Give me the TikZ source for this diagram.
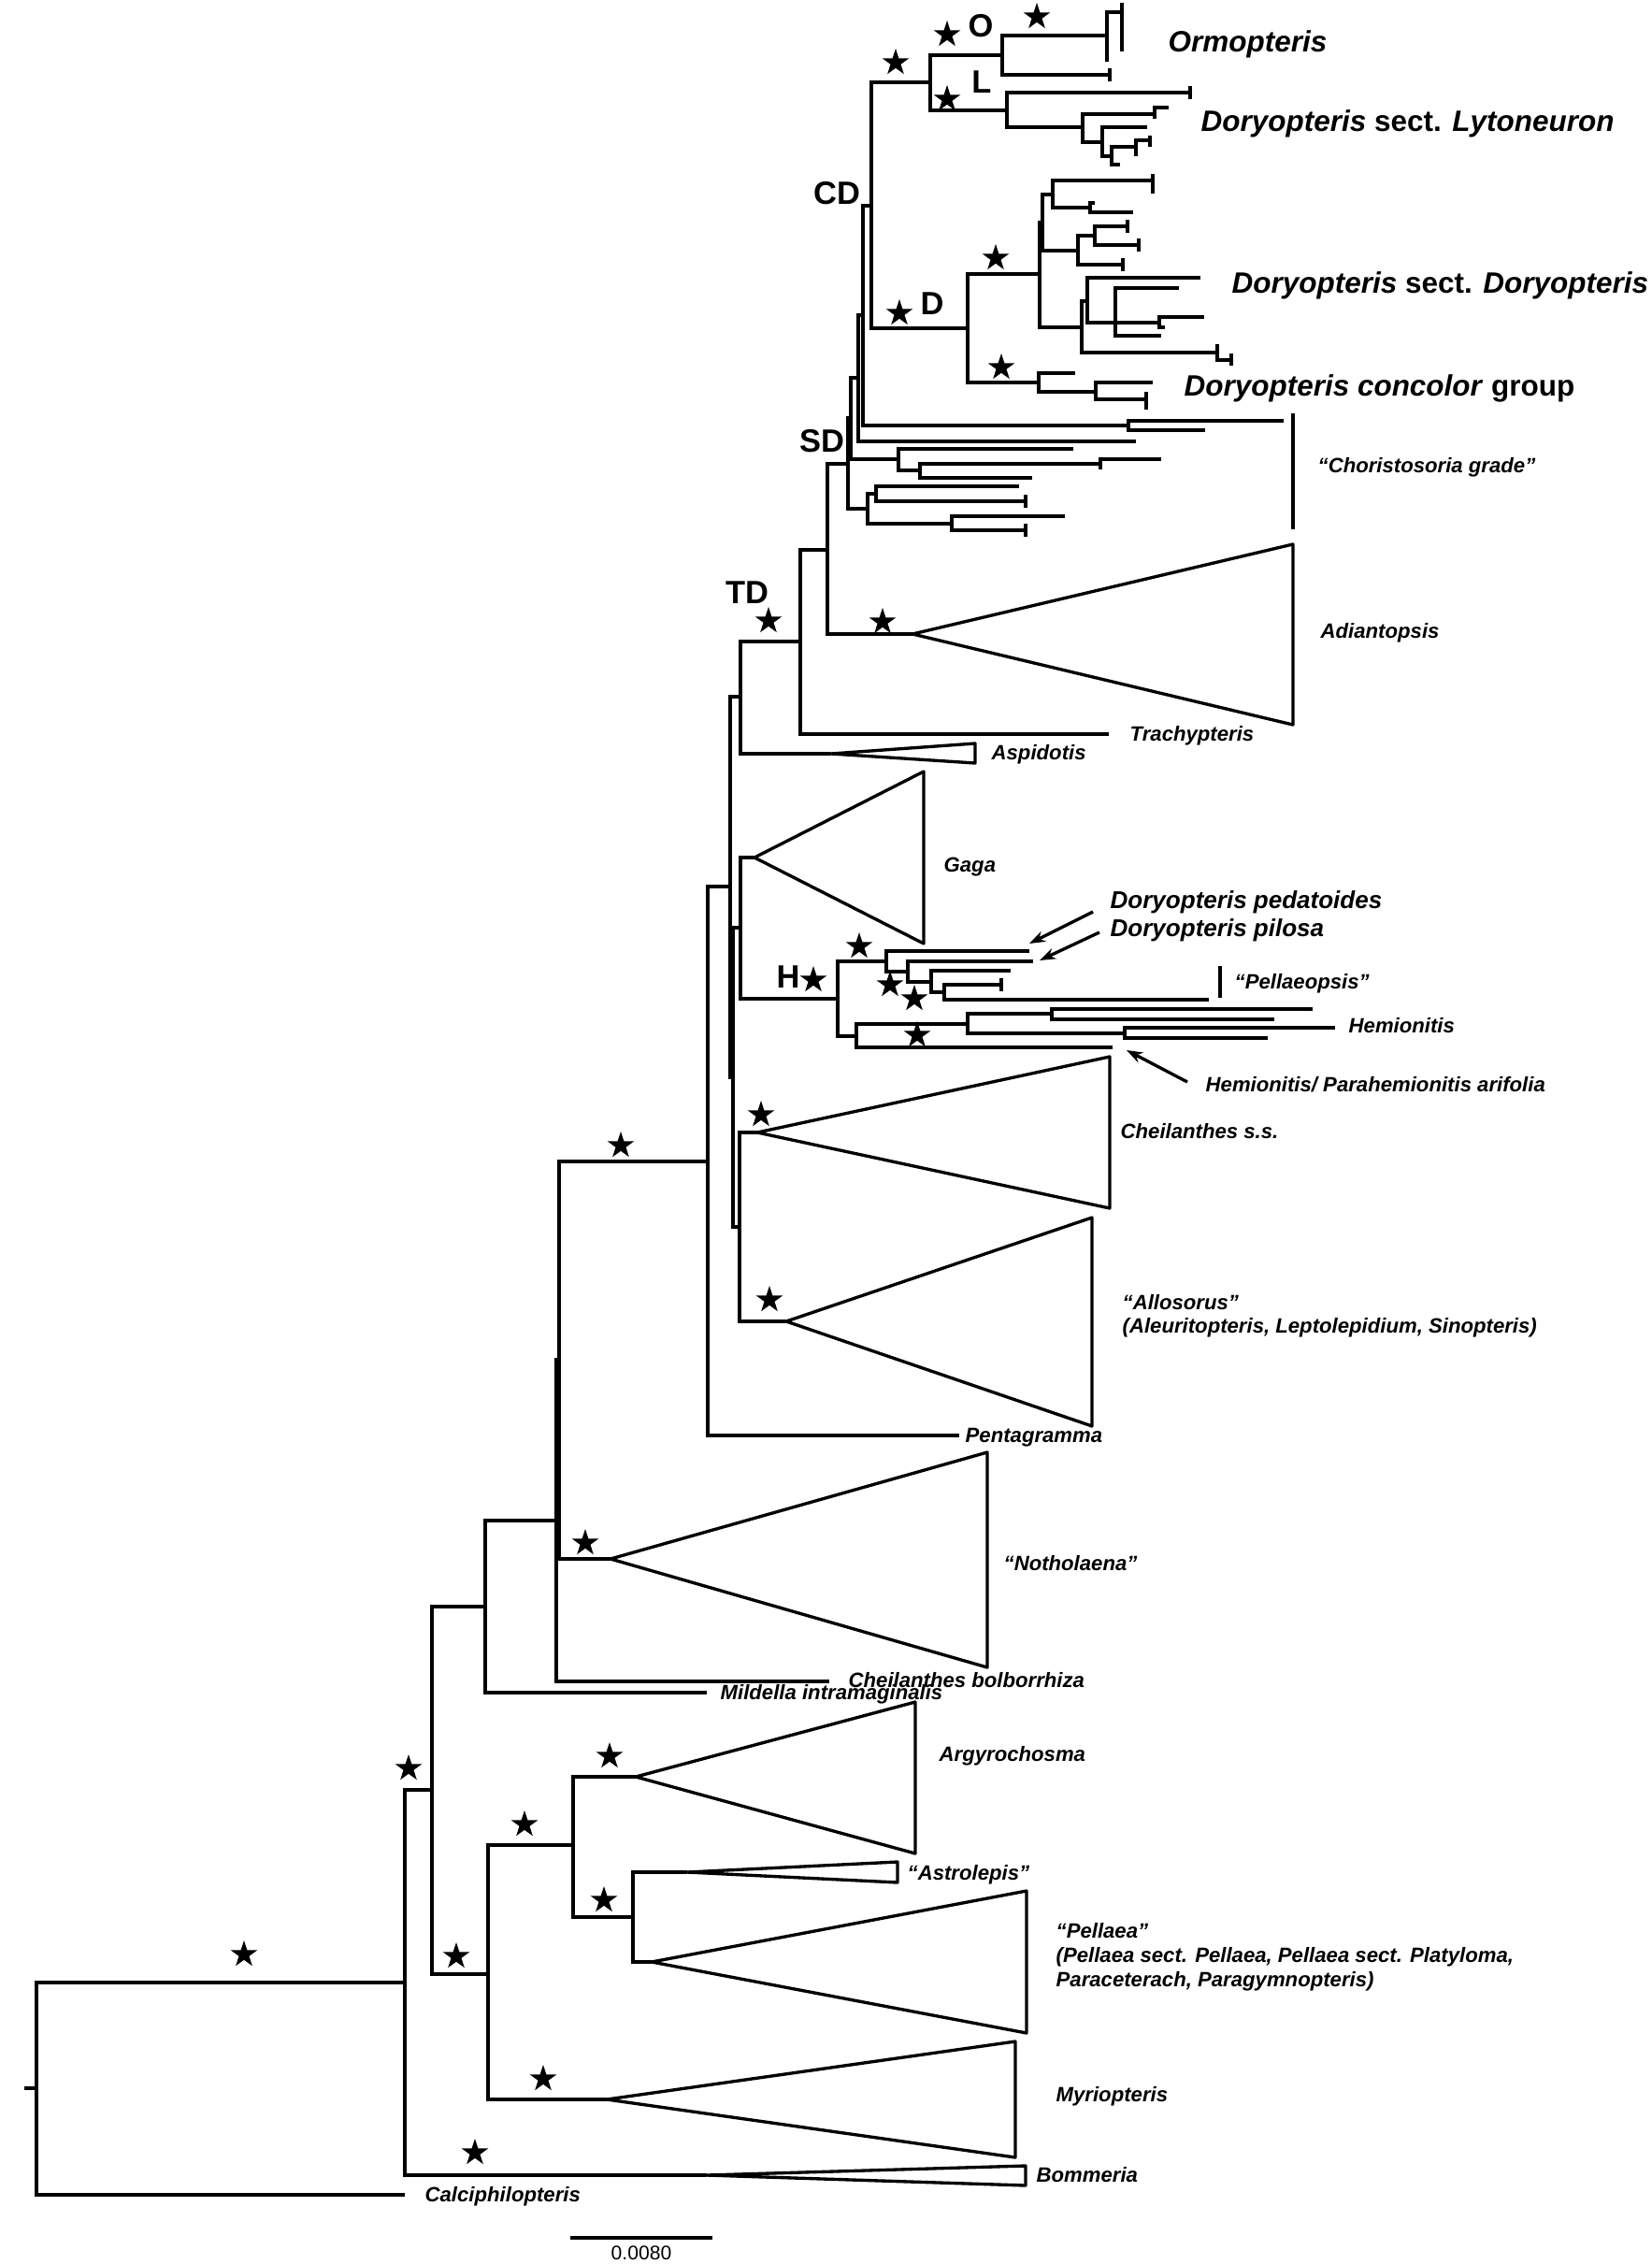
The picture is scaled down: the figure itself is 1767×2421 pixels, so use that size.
\documentclass[tikz,border=0pt]{standalone}
\usepackage{fontspec}
\setmainfont{Liberation Sans}
\usetikzlibrary{shapes.geometric,arrows.meta}
\newcommand{\clade}[3]{\draw (#2) -| (#1) |- (#3);}
\newcommand{\tipbar}[1]{\draw (#1) ++(0,-7) -- ++(0,14);}

\begin{document}
\begin{tikzpicture}[x=0.01cm,y=-0.01cm,line width=0.95pt,
  taxon/.style={anchor=west,inner sep=0pt,font=\fontsize{6.3}{7.5}\selectfont\bfseries\itshape},
  midtaxon/.style={anchor=west,inner sep=0pt,font=\fontsize{7.4}{9}\selectfont\bfseries\itshape},
  bigtaxon/.style={anchor=west,inner sep=0pt,font=\fontsize{8.95}{11}\selectfont\bfseries},
  cladename/.style={inner sep=0pt,font=\fontsize{9.8}{11}\selectfont\bfseries},
  support/.style={star,star points=5,star point ratio=2.6,fill=black,inner sep=0pt,minimum size=0.30cm},
  collapsed/.style={line join=round},
  pointer/.style={-{Stealth[length=0.17cm,width=0.12cm]}}]
\useasboundingbox (0,0) rectangle (1767,2421);

% backbone
\coordinate (root) at (39,2233);
\coordinate (n433) at (433,2120);
\coordinate (calci) at (433,2347);
\coordinate (n462) at (462,1914);
\coordinate (bomA) at (756,2326);
\coordinate (n519) at (519,1718);
\coordinate (n522) at (522,2111);
\coordinate (n613) at (613,1973);
\coordinate (myrA) at (649,2245);
\coordinate (argA) at (680,1900);
\coordinate (n677) at (677,2050);
\coordinate (astA) at (735,2002);
\coordinate (pelA) at (697,2098);
\coordinate (nb) at (595,1626);
\coordinate (mild) at (756,1810);
\coordinate (nc) at (598,1454);
\coordinate (bolb) at (887,1798);
\coordinate (n757) at (757,1242);
\coordinate (notA) at (653,1667);
\coordinate (nq) at (781,948);
\coordinate (penta) at (1026,1535);
\coordinate (np) at (792,745);
\coordinate (nm) at (784,1152);
\coordinate (td) at (856,686);
\coordinate (aspA) at (889,806);
\coordinate (nx) at (885,588);
\coordinate (trach) at (1186,785);
\coordinate (sd) at (907,496);
\coordinate (adiA) at (976,678);
\coordinate (ny) at (910,447);
\coordinate (ch1) at (928,544);
\coordinate (nz) at (918,404);
\coordinate (ch2) at (961,491);
\coordinate (nw) at (923,337);
\coordinate (ch3) at (1215,472);
\coordinate (cd) at (932,220);
\coordinate (ch4) at (1207,455);
\coordinate (ol) at (995,88);
\coordinate (dn) at (1035,351);
\coordinate (nr) at (792,992);
\coordinate (nca) at (791,1312);
\coordinate (gagA) at (807,917);
\coordinate (hn) at (896,1068);
\coordinate (cheA) at (810,1211);
\coordinate (alloA) at (841,1413);

\draw (root) -- ++(-13,0);
\clade{root}{n433}{calci}
\clade{n433}{n462}{bomA}
\clade{n462}{n519}{n522}
\clade{n522}{n613}{myrA}
\clade{n613}{argA}{n677}
\clade{n677}{astA}{pelA}
\clade{n519}{nb}{mild}
\clade{nb}{nc}{bolb}
\clade{nc}{n757}{notA}
\clade{n757}{nq}{penta}
\clade{nq}{np}{nm}
\clade{np}{td}{aspA}
\clade{td}{nx}{trach}
\clade{nx}{sd}{adiA}
\clade{sd}{ny}{ch1}
\clade{ny}{nz}{ch2}
\clade{nz}{nw}{ch3}
\clade{nw}{cd}{ch4}
\clade{cd}{ol}{dn}
\clade{nm}{nr}{nca}
\clade{nr}{gagA}{hn}
\clade{nca}{cheA}{alloA}

% collapsed clades
\draw[collapsed] (bomA) -- (1097,2316) -- (1097,2337) -- cycle;
\draw[collapsed] (myrA) -- (1086,2183) -- (1086,2307) -- cycle;
\draw[collapsed] (argA) -- (979,1820) -- (979,1982) -- cycle;
\draw[collapsed] (astA) -- (960,1991) -- (960,2013) -- cycle;
\draw[collapsed] (pelA) -- (1098,2022) -- (1098,2174) -- cycle;
\draw[collapsed] (notA) -- (1056,1553) -- (1056,1783) -- cycle;
\draw[collapsed] (alloA) -- (1168,1302) -- (1168,1525) -- cycle;
\draw[collapsed] (cheA) -- (1187,1130) -- (1187,1292) -- cycle;
\draw[collapsed] (gagA) -- (988,825) -- (988,1009) -- cycle;
\draw[collapsed] (aspA) -- (1043,795) -- (1043,816) -- cycle;
\draw[collapsed] (adiA) -- (1383,582) -- (1383,775) -- cycle;

% Choristosoria grade
\coordinate (c4a) at (1373,450);
\coordinate (c4b) at (1289,460);
\coordinate (c2a) at (1148,480);
\coordinate (ch5) at (984,503);
\coordinate (ch6) at (1177,496);
\coordinate (c5b) at (1104,511);
\coordinate (c6a) at (1242,491);
\coordinate (c6b) at (1177,502);
\coordinate (ch7) at (937,528);
\coordinate (ch8) at (1018,560);
\coordinate (c7a) at (1090,520);
\coordinate (c7b) at (1097,536);
\coordinate (c8a) at (1139,552);
\coordinate (c8b) at (1097,567);
\clade{ch4}{c4a}{c4b}
\clade{ch2}{c2a}{ch5}
\clade{ch5}{ch6}{c5b}
\clade{ch6}{c6a}{c6b}
\clade{ch1}{ch7}{ch8}
\clade{ch7}{c7a}{c7b}
\clade{ch8}{c8a}{c8b}
\tipbar{c7b}
\tipbar{c8b}

% Ormopteris and Lytoneuron
\coordinate (on) at (1072,59);
\coordinate (ln) at (1077,118);
\coordinate (o1) at (1184,38);
\coordinate (otip) at (1187,80);
\coordinate (o2) at (1200,13);
\coordinate (o1b) at (1184,66);
\coordinate (ltip) at (1273,99);
\coordinate (l1) at (1158,136);
\coordinate (l2) at (1235,122);
\coordinate (l3) at (1179,152);
\coordinate (l3a) at (1227,136);
\coordinate (l4) at (1189,167);
\coordinate (l5) at (1215,157);
\coordinate (l4b) at (1198,176);
\clade{ol}{on}{ln}
\clade{on}{o1}{otip}
\clade{o1}{o2}{o1b}
\draw (o2) ++(0,-10) -- ++(0,52);
\tipbar{otip}
\clade{ln}{ltip}{l1}
\tipbar{ltip}
\clade{l1}{l2}{l3}
\draw (1250,115) -| (l2) -- ++(0,5);
\clade{l3}{l3a}{l4}
\clade{l4}{l5}{l4b}
\draw (1230,150) -| (l5) -- ++(0,10);
\draw (1230,145) -- (1230,157);

% Doryopteris
\coordinate (da) at (1112,293);
\coordinate (db) at (1111,409);
\coordinate (db1) at (1115,238);
\coordinate (dc) at (1157,350);
\coordinate (de) at (1126,208);
\coordinate (df) at (1153,268);
\coordinate (de1) at (1233,193);
\coordinate (dg) at (1166,222);
\coordinate (dg1) at (1171,217);
\coordinate (dg2) at (1212,227);
\coordinate (dh) at (1171,252);
\coordinate (df1) at (1201,283);
\coordinate (dh1) at (1206,242);
\coordinate (dh2) at (1218,262);
\coordinate (di) at (1163,322);
\coordinate (dt) at (1302,377);
\coordinate (di1) at (1284,297);
\coordinate (dj) at (1193,345);
\coordinate (dj1) at (1261,308);
\coordinate (dj2) at (1242,359);
\coordinate (dk) at (1240,345);
\coordinate (dk1) at (1288,339);
\coordinate (dk2) at (1246,350);
\coordinate (db2) at (1150,399);
\coordinate (dm) at (1172,419);
\coordinate (dm1) at (1233,409);
\coordinate (dm2) at (1226,427);
\clade{dn}{da}{db}
\clade{da}{db1}{dc}
\clade{db1}{de}{df}
\clade{de}{de1}{dg}
\draw (1233,186) -- (1233,207);
\clade{dg}{dg1}{dg2}
\clade{df}{dh}{df1}
\tipbar{df1}
\clade{dh}{dh1}{dh2}
\tipbar{dh1}
\tipbar{dh2}
\clade{dc}{di}{dt}
\draw (1302,368) -- (1302,385) -- (1317,385);
\draw (1317,378) -- (1317,391);
\clade{di}{di1}{dj}
\clade{dj}{dj1}{dj2}
\draw (dj) -- (dk);
\clade{dk}{dk1}{dk2}
\clade{db}{db2}{dm}
\clade{dm}{dm1}{dm2}
\draw (1226,419) -- (1226,438);

% Hemionitis clade
\coordinate (ha) at (948,1028);
\coordinate (hb) at (916,1108);
\coordinate (ped) at (1101,1017);
\coordinate (ha2) at (971,1039);
\coordinate (pil) at (1105,1028);
\coordinate (ha3) at (996,1050);
\coordinate (ha3a) at (1081,1038);
\coordinate (ha4) at (1010,1061);
\coordinate (ha4a) at (1071,1053);
\coordinate (ha4b) at (1293,1069);
\coordinate (hb2) at (1035,1095);
\coordinate (arif) at (1190,1120);
\coordinate (hb3) at (1125,1084);
\coordinate (hb4) at (1203,1105);
\coordinate (hb3a) at (1404,1079);
\coordinate (hb3b) at (1363,1090);
\coordinate (hb4a) at (1428,1099);
\coordinate (hb4b) at (1356,1110);
\clade{hn}{ha}{hb}
\clade{ha}{ped}{ha2}
\clade{ha2}{pil}{ha3}
\clade{ha3}{ha3a}{ha4}
\clade{ha4}{ha4a}{ha4b}
\tipbar{ha4a}
\clade{hb}{hb2}{arif}
\clade{hb2}{hb3}{hb4}
\clade{hb3}{hb3a}{hb3b}
\clade{hb4}{hb4a}{hb4b}

% bars and arrows
\draw (1383,442) -- (1383,566);
\draw (1305,1033) -- (1305,1067);
\coordinate (pedS) at (1169,975);
\coordinate (pedE) at (1101,1009);
\coordinate (pilS) at (1176,997);
\coordinate (pilE) at (1112,1027);
\coordinate (arS) at (1270,1157);
\coordinate (arE) at (1205,1123);
\draw[pointer] (pedS) -- (pedE);
\draw[pointer] (pilS) -- (pilE);
\draw[pointer] (arS) -- (arE);

% support stars
\foreach \sx/\sy [count=\i] in {958/67,1013/37,1109/18,1013/106,962/335,1065/276,1071/393,
    944/665,822/664,870/1048,919/1012,952/1053,978/1068,981/1107,814/1192,823/1390,
    664/1225,626/1650,437/1891,261/2090,488/2092,561/1951,652/1878,646/2032,581/2223,508/2302}
  \node[support] (s\i) at (\sx,\sy) {};

% clade names
\node[cladename] (lo) at (1049,28) {O};
\node[cladename] (ll) at (1050,88) {L};
\node[cladename] (lcd) at (895,207) {CD};
\node[cladename] (ld) at (997,325) {D};
\node[cladename] (lsd) at (879,472) {SD};
\node[cladename] (ltd) at (799,634) {TD};
\node[cladename] (lh) at (843,1045) {H};

% taxon labels
\node[bigtaxon] (ormo) at (1248,47) {\textit{Ormopteris}};
\node[bigtaxon] (lyto) at (1283,132) {\textit{Doryopteris} sect. \textit{Lytoneuron}};
\node[bigtaxon] (dory) at (1316,305) {\textit{Doryopteris} sect. \textit{Doryopteris}};
\node[bigtaxon] (conc) at (1265,415) {\textit{Doryopteris concolor} group};
\node[taxon] (chor) at (1408,500) {“Choristosoria grade”};
\node[taxon] (adia) at (1411,677) {Adiantopsis};
\node[taxon] (trac) at (1207,787) {Trachypteris};
\node[taxon] (aspi) at (1059,807) {Aspidotis};
\node[taxon] (gaga) at (1008,927) {Gaga};
\node[midtaxon] (peda) at (1186,965) {Doryopteris pedatoides};
\node[midtaxon] (pilo) at (1186,995) {Doryopteris pilosa};
\node[taxon] (pellp) at (1319,1052) {“Pellaeopsis”};
\node[taxon] (hemi) at (1441,1097) {Hemionitis};
\node[taxon] (arifl) at (1288,1160) {Hemionitis/ Parahemionitis arifolia};
\node[taxon] (chss) at (1197,1210) {Cheilanthes s.s.};
\node[taxon] (allo) at (1199,1393) {“Allosorus”};
\node[taxon] (allo2) at (1199,1420) {(Aleuritopteris, Leptolepidium, Sinopteris)};
\node[taxon] (pent) at (1031,1537) {Pentagramma};
\node[taxon] (noth) at (1072,1672) {“Notholaena”};
\node[taxon] (bolbl) at (906,1797) {Cheilanthes bolborrhiza};
\node[taxon] (mildl) at (769,1812) {Mildella intramaginalis};
\node[taxon] (argy) at (1003,1878) {Argyrochosma};
\node[taxon] (astr) at (969,2005) {“Astrolepis”};
\node[taxon] (pell) at (1128,2065) {“Pellaea”};
\node[taxon] (pell2) at (1128,2093) {(Pellaea sect. Pellaea, Pellaea sect. Platyloma,};
\node[taxon] (pell3) at (1128,2119) {Paraceterach, Paragymnopteris)};
\node[taxon] (myri) at (1128,2242) {Myriopteris};
\node[taxon] (bomm) at (1107,2326) {Bommeria};
\node[taxon] (calc) at (453,2349) {Calciphilopteris};

% scale bar
\coordinate (sbl) at (610,2393);
\coordinate (sbr) at (762,2393);
\draw (sbl) -- (sbr);
\node[anchor=north,inner sep=0pt,font=\fontsize{6}{7}\selectfont] (sblab) at (686,2400) {0.0080};
\end{tikzpicture}
\end{document}
